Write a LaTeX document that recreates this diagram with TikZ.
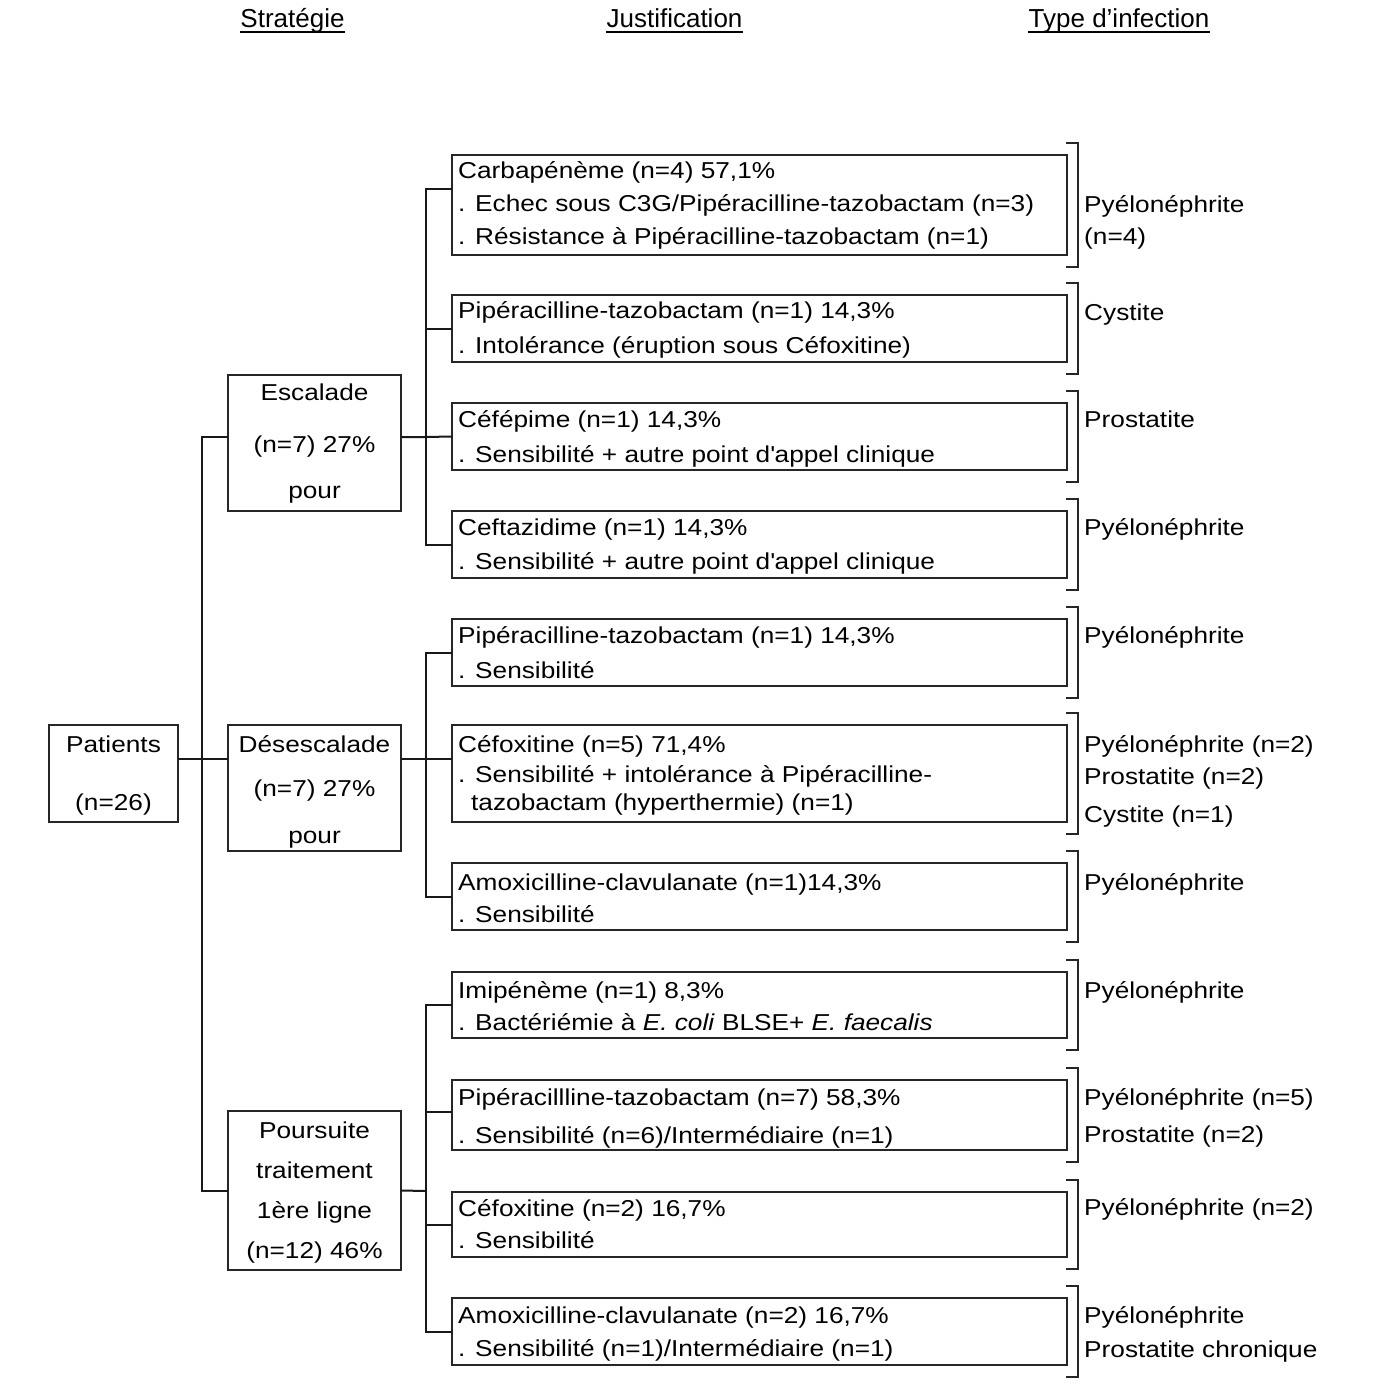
\documentclass[tikz,border=0pt]{standalone}
\usepackage{fontspec}
\setmainfont{Liberation Sans}[FakeStretch=1.14]
\newfontfamily\headfont{Liberation Sans}
\usetikzlibrary{calc}
\newcommand\txtsize{\fontsize{23}{28}\selectfont}
\begin{document}
\begin{tikzpicture}[x=1pt,y=-1pt,
  cbox/.style={draw=black!85, line width=2pt, inner sep=0pt, outer sep=0pt, anchor=north west, minimum width=173},
  jbox/.style={draw=black!85, line width=2.2pt, inner sep=0pt, outer sep=0pt, anchor=north west, minimum width=615},
  txt/.style={inner sep=0pt, anchor=base west, font=\txtsize},
  ctxt/.style={inner sep=0pt, anchor=base, font=\txtsize},
  hdr/.style={inner sep=0pt, anchor=base, font=\headfont\fontsize{26}{30}\selectfont},
  uline/.style={line width=1.8pt, black},
  conn/.style={line width=2pt, black!90},
  brk/.style={line width=2pt, black!85}]
\fill[white] (0,0) rectangle (1380,1396);
\useasboundingbox (0,0) rectangle (1380,1396);

% column headings
\node[hdr] (h1) at (292.5,28) {Stratégie};
\node[hdr] (h2) at (674.5,28) {Justification};
\node[hdr] (h3) at (1119,28) {Type d’infection};
\foreach \h in {h1,h2,h3}
  \draw[uline] ([yshift=-4pt]\h.base west) -- ([yshift=-4pt]\h.base east);

% strategy boxes
\node[cbox, minimum width=129, minimum height=97] (pat) at (49,725) {};
\node[ctxt] (pat1) at (113.5,752) {Patients};
\node[ctxt] (pat2) at (113.5,810) {(n=26)};

\node[cbox, minimum height=136] (esc) at (228,375) {};
\node[ctxt] (esc1) at (314.5,400) {Escalade};
\node[ctxt] (esc2) at (314.5,452) {(n=7) 27\%};
\node[ctxt] (esc3) at (314.5,498) {pour};

\node[cbox, minimum height=126] (des) at (228,725) {};
\node[ctxt] (des1) at (314.5,752) {Désescalade};
\node[ctxt] (des2) at (314.5,796) {(n=7) 27\%};
\node[ctxt] (des3) at (314.5,843) {pour};

\node[cbox, minimum height=159] (pou) at (228,1111) {};
\node[ctxt] (pou1) at (314.5,1138) {Poursuite};
\node[ctxt] (pou2) at (314.5,1178) {traitement};
\node[ctxt] (pou3) at (314.5,1218) {1ère ligne};
\node[ctxt] (pou4) at (314.5,1258) {(n=12) 46\%};

% justification boxes
\node[jbox, minimum height=100] (j1) at (452,155) {};
\node[jbox, minimum height=67] (j2) at (452,295) {};
\node[jbox, minimum height=67] (j3) at (452,403) {};
\node[jbox, minimum height=67] (j4) at (452,511) {};
\node[jbox, minimum height=67] (j5) at (452,619) {};
\node[jbox, minimum height=97] (j6) at (452,725) {};
\node[jbox, minimum height=67] (j7) at (452,863) {};
\node[jbox, minimum height=66] (j8) at (452,972) {};
\node[jbox, minimum height=70] (j9) at (452,1080) {};
\node[jbox, minimum height=65] (j10) at (452,1192) {};
\node[jbox, minimum height=67] (j11) at (452,1298) {};

\node[txt] (j1a) at (458,179) {Carbapénème (n=4) 57,1\%};
\node[txt] (j1b) at (458,212) {. Echec sous C3G/Pipéracilline-tazobactam (n=3)};
\node[txt] (j1c) at (458,245) {. Résistance à Pipéracilline-tazobactam (n=1)};
\node[txt] (j2a) at (458,318) {Pipéracilline-tazobactam (n=1) 14,3\%};
\node[txt] (j2b) at (458,353) {. Intolérance (éruption sous Céfoxitine)};
\node[txt] (j3a) at (458,427) {Céfépime (n=1) 14,3\%};
\node[txt] (j3b) at (458,462) {. Sensibilité + autre point d\textquotesingle appel clinique};
\node[txt] (j4a) at (458,535) {Ceftazidime (n=1) 14,3\%};
\node[txt] (j4b) at (458,569) {. Sensibilité + autre point d\textquotesingle appel clinique};
\node[txt] (j5a) at (458,643) {Pipéracilline-tazobactam (n=1) 14,3\%};
\node[txt] (j5b) at (458,678) {. Sensibilité};
\node[txt] (j6a) at (458,752) {Céfoxitine (n=5) 71,4\%};
\node[txt] (j6b) at (458,782) {. Sensibilité + intolérance à Pipéracilline-};
\node[txt] (j6c) at (471,810) {tazobactam (hyperthermie) (n=1)};
\node[txt] (j7a) at (458,890) {Amoxicilline-clavulanate (n=1)14,3\%};
\node[txt] (j7b) at (458,922) {. Sensibilité};
\node[txt] (j8a) at (458,998) {Imipénème (n=1) 8,3\%};
\node[txt] (j8b) at (458,1030) {. Bactériémie à \textit{E. coli} BLSE+ \textit{E. faecalis}};
\node[txt] (j9a) at (458,1105) {Pipéracillline-tazobactam (n=7) 58,3\%};
\node[txt] (j9b) at (458,1143) {. Sensibilité (n=6)/Intermédiaire (n=1)};
\node[txt] (j10a) at (458,1216) {Céfoxitine (n=2) 16,7\%};
\node[txt] (j10b) at (458,1248) {. Sensibilité};
\node[txt] (j11a) at (458,1323) {Amoxicilline-clavulanate (n=2) 16,7\%};
\node[txt] (j11b) at (458,1356) {. Sensibilité (n=1)/Intermédiaire (n=1)};

% infection type brackets
\foreach \b in {j1,j2,j3,j4,j5,j6,j7,j8,j9,j10,j11}
  \draw[brk] ($(\b.north east)+(-1,-12)$) -- ++(12,0) |- ($(\b.south east)+(-1,12)$);

\node[txt] (t1a) at (1084,213) {Pyélonéphrite};
\node[txt] (t1b) at (1084,245) {(n=4)};
\node[txt] (t2) at (1084,320) {Cystite};
\node[txt] (t3) at (1084,427) {Prostatite};
\node[txt] (t4) at (1084,535) {Pyélonéphrite};
\node[txt] (t5) at (1084,643) {Pyélonéphrite};
\node[txt] (t6a) at (1084,752) {Pyélonéphrite (n=2)};
\node[txt] (t6b) at (1084,784) {Prostatite (n=2)};
\node[txt] (t6c) at (1084,822) {Cystite (n=1)};
\node[txt] (t7) at (1084,890) {Pyélonéphrite};
\node[txt] (t8) at (1084,998) {Pyélonéphrite};
\node[txt] (t9a) at (1084,1105) {Pyélonéphrite (n=5)};
\node[txt] (t9b) at (1084,1142) {Prostatite (n=2)};
\node[txt] (t10) at (1084,1215) {Pyélonéphrite (n=2)};
\node[txt] (t11a) at (1084,1323) {Pyélonéphrite};
\node[txt] (t11b) at (1084,1357) {Prostatite chronique};

% tree junctions
\coordinate (tk) at (202,759);
\coordinate (b1) at (426,437);
\coordinate (b2) at (426,759);
\coordinate (b3) at (426,1191);

% main trunk
\draw[conn] (pat.east |- tk) -- (des.west |- tk);
\draw[conn] ([yshift=6pt]esc.west) -| (tk) |- (pou.west);

% escalation branch
\draw[conn] ([yshift=6pt]esc.east) -- (b1) -- (j3.west);
\draw[conn] ([yshift=16pt]j1.west) -| (b1) |- (j4.west);
\draw[conn] (b1 |- j2.west) -- (j2.west);

% de-escalation branch
\draw[conn] ([yshift=29pt]des.east) -- (b2) -- (j6.west |- b2);
\draw[conn] (j5.west) -| (b2) |- (j7.west);

% first-line continuation branch
\coordinate (j9in) at ([yshift=3pt]j9.west);
\draw[conn] (pou.east) -- (b3);
\draw[conn] (j8.west) -| (b3) |- (j11.west);
\draw[conn] (j9in) -- (b3 |- j9in);
\draw[conn] (j10.west) -- (b3 |- j10.west);
\end{tikzpicture}
\end{document}
